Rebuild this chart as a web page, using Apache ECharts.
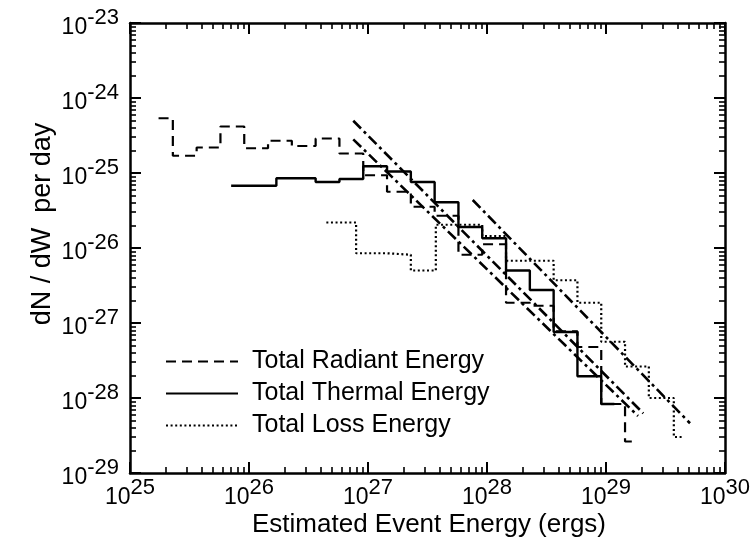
<!DOCTYPE html>
<html>
<head>
<meta charset="utf-8">
<script src="https://cdn.jsdelivr.net/npm/echarts@6/dist/echarts.min.js"></script>
<style>html,body{margin:0;padding:0;background:#fff}#c{width:756px;height:545px}</style>
</head>
<body>
<div id="c"></div>
<script>
// ---- axis ranges / tick labels (decade exponents, log10 scale) ----
const xMajorExp = [25, 26, 27, 28, 29, 30];
const yMajorExp = [-29, -28, -27, -26, -25, -24, -23];
const minorMult = [2, 3, 4, 5, 6, 7, 8, 9];

// ---- histogram bins: log10(energy / ergs) edges and log10(dN/dW per day) values ----
const radiantLogE = [25.24, 25.36, 25.56, 25.76, 25.96, 26.16, 26.36, 26.56, 26.76, 26.96, 27.16, 27.36, 27.56, 27.76, 27.96, 28.16, 28.36, 28.56, 28.76, 28.96, 29.16, 29.26];
const radiantLogN = [-24.27, -24.77, -24.66, -24.38, -24.67, -24.57, -24.64, -24.54, -24.74, -25.03, -25.25, -25.45, -25.57, -26.09, -25.95, -26.73, -26.77, -27.11, -27.32, -28.08, -28.58];

const thermalLogE = [25.85, 26.23, 26.56, 26.76, 26.96, 27.16, 27.36, 27.56, 27.76, 27.96, 28.16, 28.36, 28.56, 28.76, 28.96, 29.07];
const thermalLogN = [-25.17, -25.07, -25.12, -25.08, -24.91, -24.98, -25.12, -25.39, -25.72, -25.87, -26.30, -26.56, -27.12, -27.71, -28.08];

const lossLogE = [26.65, 26.90, 27.16, 27.36, 27.57, 27.76, 27.96, 28.16, 28.36, 28.56, 28.76, 28.96, 29.16, 29.36, 29.57, 29.64];
const lossLogN = [-25.66, -26.07, -26.09, -26.30, -25.69, -25.69, -25.84, -26.17, -26.17, -26.43, -26.73, -27.25, -27.58, -28.00, -28.52];

// ---- power-law fit lines: [log10 E, log10 dN/dW] end points ----
const fitA = [[26.876, -24.303], [29.313, -28.204]];
const fitB = [[26.876, -24.551], [29.269, -28.240]];
const fitC = [[27.880, -25.360], [29.706, -28.337]];

const seriesNames = ['Total Radiant Energy', 'Total Thermal Energy', 'Total Loss Energy'];
const xTitle = 'Estimated Event Energy (ergs)';
const yTitle = 'dN / dW  per day';

// ---- helpers ----
const FONT = '"Liberation Sans", Arial, Helvetica, sans-serif';
function stepData(edges, vals) {
  const out = [];
  for (let i = 0; i < vals.length; i++) {
    out.push([edges[i], vals[i]]);
    out.push([edges[i + 1], vals[i]]);
  }
  return out;
}
function minors(exps) {
  const r = [];
  exps.slice(0, -1).forEach(e => minorMult.forEach(m => r.push(e + Math.log10(m))));
  return r;
}
const xMinor = minors(xMajorExp), yMinor = minors(yMajorExp);

const labelRich = {
  b: { fontSize: 23, fontFamily: FONT, color: '#000', verticalAlign: 'bottom' },
  e: { fontSize: 22, fontFamily: FONT, color: '#000', verticalAlign: 'top', padding: [0, 0, 10, 0] }
};
const fmt = v => '{b|10}{e|' + Math.round(v) + '}';

function makeAxis(kind, pos, major, labels) {
  const isX = kind === 'x';
  const majors = isX ? xMajorExp : yMajorExp;
  const ax = {
    type: 'value', min: majors[0], max: majors[majors.length - 1], interval: 1,
    position: pos, gridIndex: 0, offset: 0,
    axisLine: { show: major, onZero: false, lineStyle: { color: '#000', width: 2.5 } },
    axisTick: {
      show: true, inside: true, length: major ? 11 : 6,
      customValues: major ? majors : (isX ? xMinor : yMinor),
      lineStyle: { color: '#000', width: major ? 2 : 1.6 }
    },
    axisLabel: { show: false },
    splitLine: { show: false }, minorTick: { show: false }, minorSplitLine: { show: false }
  };
  if (labels) {
    ax.axisLabel = {
      show: true, customValues: majors, formatter: fmt, rich: labelRich,
      margin: isX ? 4 : 11, showMinLabel: true, showMaxLabel: true, hideOverlap: false
    };
  }
  return ax;
}

const chart = echarts.init(document.getElementById('c'), null, { renderer: 'canvas' });
const fitStyle = { color: '#000', width: 2.6, type: [11, 4, 3, 4] };
chart.setOption({
  animation: false,
  backgroundColor: '#fff',
  grid: { left: 130, right: 31, top: 23, bottom: 72, containLabel: false, outerBoundsMode: 'none' },
  xAxis: [
    makeAxis('x', 'bottom', true, true),
    makeAxis('x', 'bottom', false, false),
    makeAxis('x', 'top', true, false),
    makeAxis('x', 'top', false, false)
  ],
  yAxis: [
    makeAxis('y', 'left', true, true),
    makeAxis('y', 'left', false, false),
    makeAxis('y', 'right', true, false),
    makeAxis('y', 'right', false, false)
  ],
  legend: {
    data: seriesNames, orient: 'vertical', left: 165, top: 349, padding: 0,
    itemWidth: 72, itemHeight: 14, itemGap: 7,
    itemStyle: { opacity: 0 },
    textStyle: { fontSize: 25, fontFamily: FONT, color: '#000', padding: [0, 0, 0, 9] }
  },
  graphic: [
    { type: 'text', x: 429, y: 525, style: { text: xTitle, font: '26px ' + FONT, fill: '#000', textAlign: 'center', textVerticalAlign: 'middle' } },
    { type: 'text', x: 43, y: 224, rotation: Math.PI / 2, style: { text: yTitle, font: '27px ' + FONT, fill: '#000', textAlign: 'center', textVerticalAlign: 'middle' } }
  ],
  series: [
    { name: seriesNames[0], type: 'line', symbol: 'none', data: stepData(radiantLogE, radiantLogN),
      lineStyle: { color: '#000', width: 2.2, type: [10, 6] }, itemStyle: { color: '#000' } },
    { name: seriesNames[1], type: 'line', symbol: 'none', data: stepData(thermalLogE, thermalLogN),
      lineStyle: { color: '#000', width: 2.4, type: 'solid' }, itemStyle: { color: '#000' } },
    { name: seriesNames[2], type: 'line', symbol: 'none', data: stepData(lossLogE, lossLogN),
      lineStyle: { color: '#000', width: 2.2, type: [2, 2.6] }, itemStyle: { color: '#000' } },
    { name: 'fitA', type: 'line', symbol: 'none', data: fitA, lineStyle: fitStyle },
    { name: 'fitB', type: 'line', symbol: 'none', data: fitB, lineStyle: fitStyle },
    { name: 'fitC', type: 'line', symbol: 'none', data: fitC, lineStyle: fitStyle }
  ]
});
</script>
</body>
</html>
